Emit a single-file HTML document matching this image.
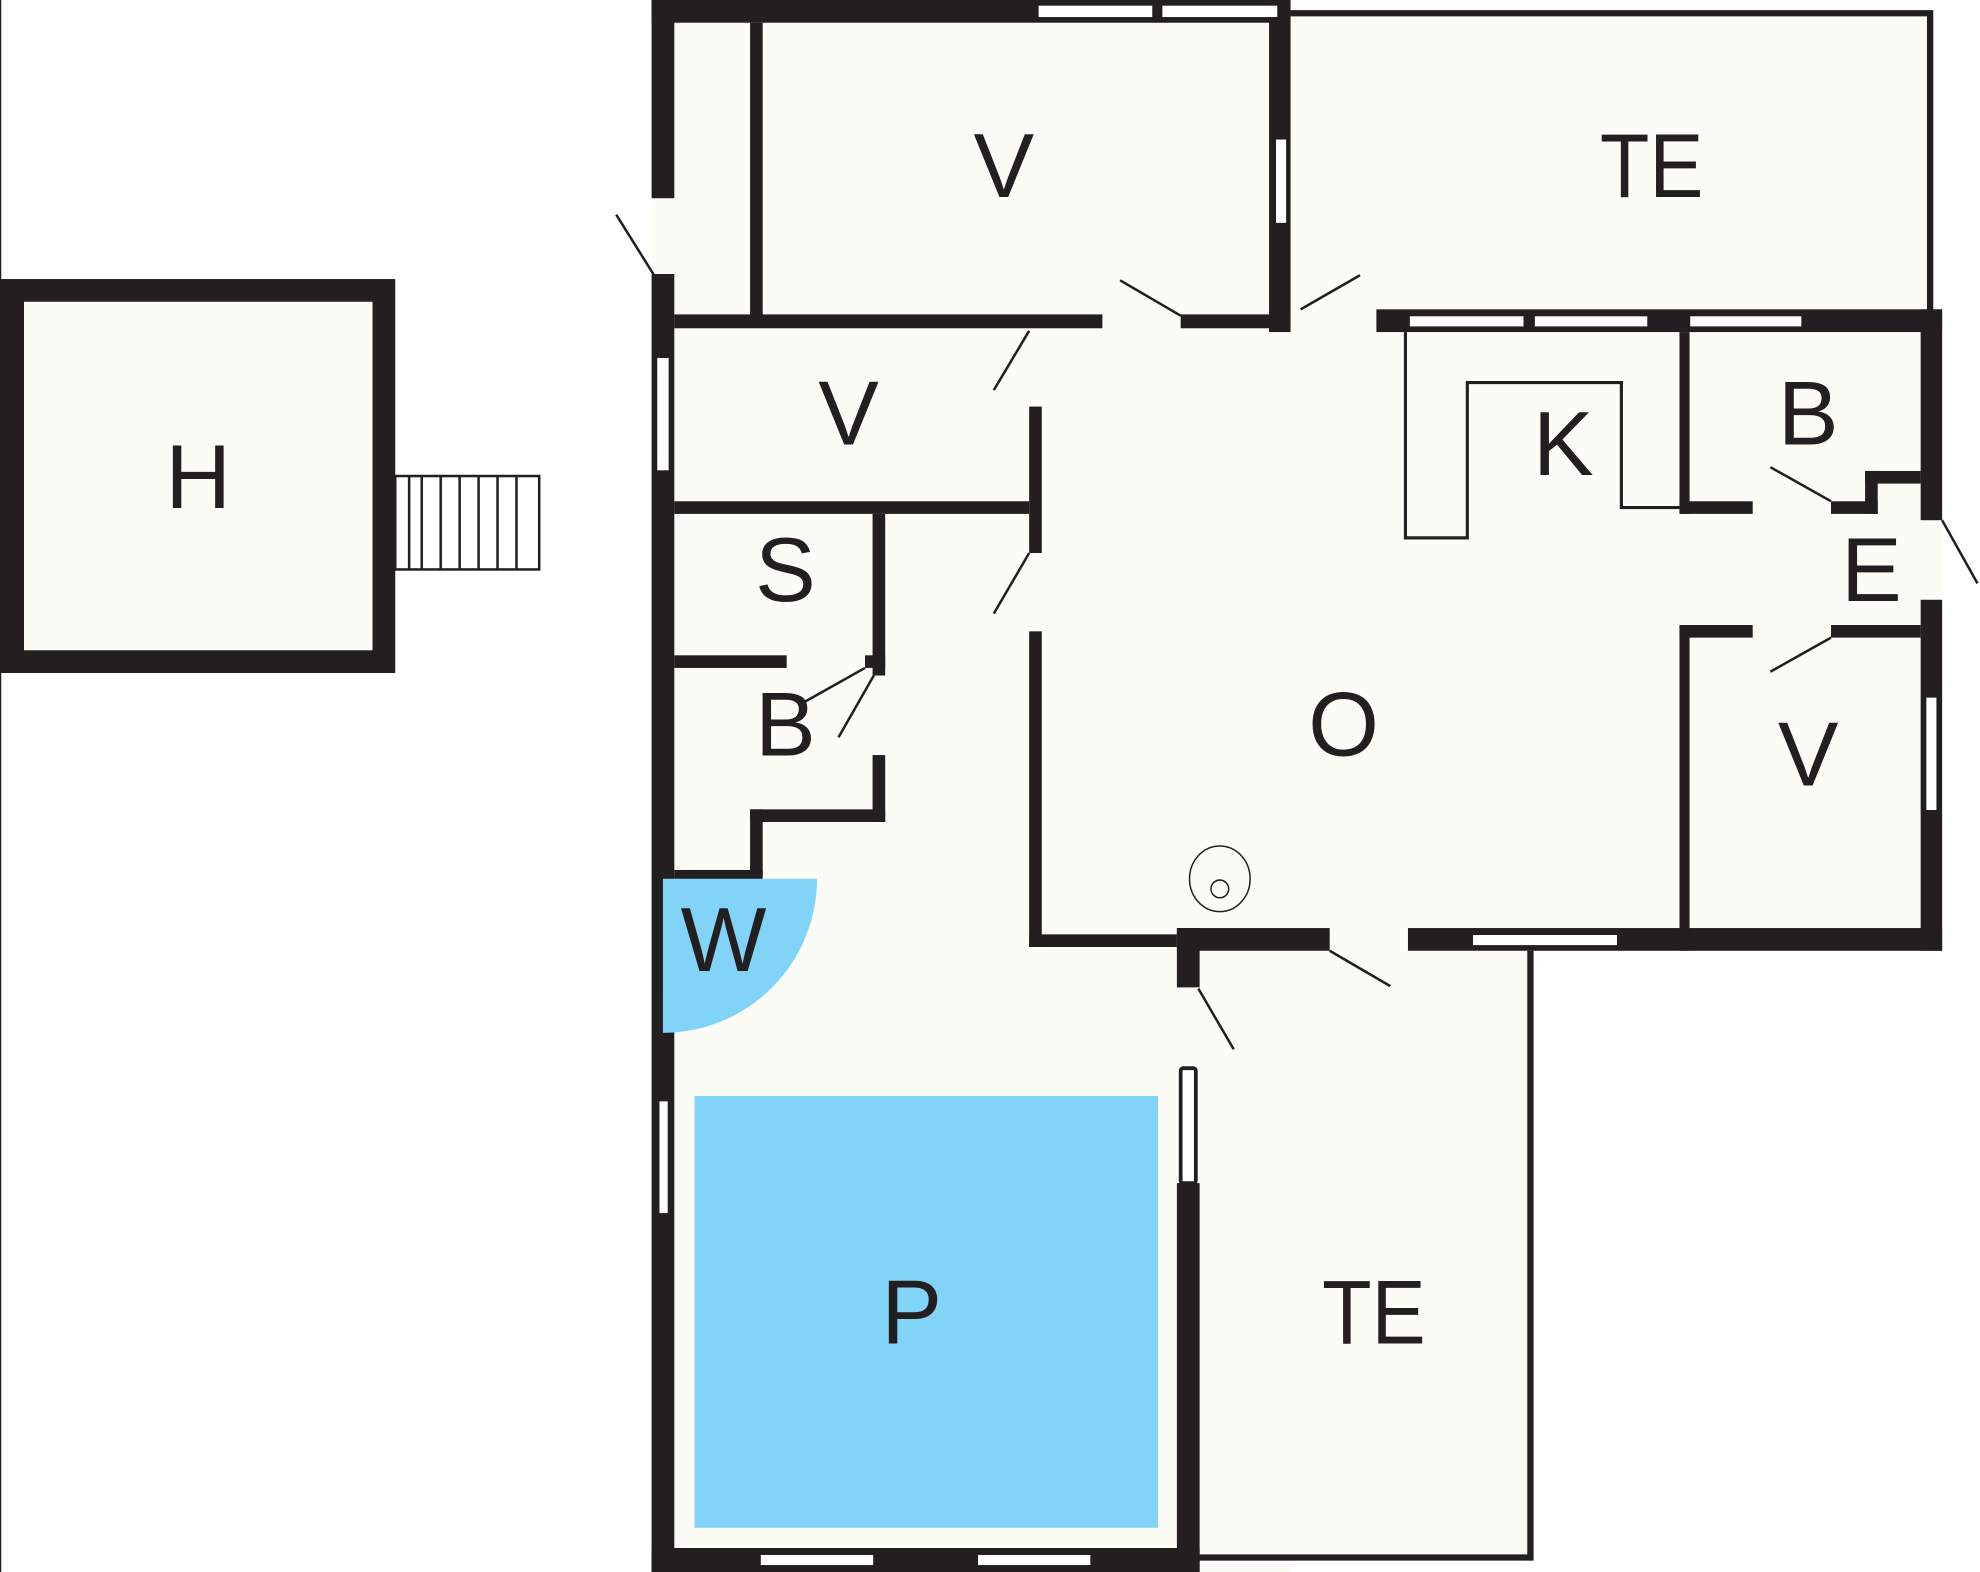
<!DOCTYPE html>
<html><head><meta charset="utf-8"><style>
html,body{margin:0;padding:0;background:#fff;width:1980px;height:1572px;overflow:hidden}
svg{display:block}
text{font-family:"Liberation Sans",sans-serif;fill:#231f20;text-anchor:middle;dominant-baseline:central}
</style></head><body>
<svg width="1980" height="1572" viewBox="0 0 1568 1245" preserveAspectRatio="none" xmlns="http://www.w3.org/2000/svg">
<rect width="1568" height="1245" fill="#fff"/>
<line x1="0.5" y1="0" x2="0.5" y2="1245" stroke="#231f20" stroke-width="1"/>
<g fill="#fcfcf7">
<rect x="516" y="0" width="506" height="1245"/>
<rect x="1022" y="8" width="509" height="255"/>
<rect x="815" y="245" width="723" height="508"/>
<rect x="932" y="735" width="280" height="500"/>
<rect x="1521" y="412" width="17" height="63"/>
</g>
<!-- H building -->
<rect x="0" y="221" width="313" height="312" fill="#231f20"/>
<rect x="19" y="239" width="276" height="276" fill="#fcfcf7"/>
<rect x="313" y="377" width="114" height="74" fill="#fff" stroke="#231f20" stroke-width="2"/>
<g stroke="#231f20" stroke-width="2">
<line x1="324" y1="377" x2="324" y2="451"/><line x1="334" y1="377" x2="334" y2="451"/><line x1="349" y1="377" x2="349" y2="451"/><line x1="364" y1="377" x2="364" y2="451"/><line x1="379" y1="377" x2="379" y2="451"/><line x1="394" y1="377" x2="394" y2="451"/><line x1="409" y1="377" x2="409" y2="451"/>
</g>
<rect x="550" y="868" width="367" height="342" fill="#81d4f7"/>
<!-- top-right TE outline -->
<path d="M1022 10.5 H1528.5 V247" fill="none" stroke="#231f20" stroke-width="5"/>
<!-- lower TE outline -->
<path d="M1212 753 V1233.5 H949" fill="none" stroke="#231f20" stroke-width="5"/>
<g fill="#231f20">
<rect x="516" y="0" width="18" height="157"/>
<rect x="516" y="217" width="18" height="1028"/>
<rect x="516" y="0" width="506" height="18"/>
<rect x="594" y="18" width="10" height="232"/>
<rect x="534" y="249" width="339" height="11"/>
<rect x="935" y="249" width="87" height="11"/>
<rect x="1005" y="0" width="17" height="263"/>
<rect x="1090" y="245" width="448" height="18"/>
<rect x="1521" y="245" width="17" height="167"/>
<rect x="1521" y="475" width="17" height="278"/>
<rect x="1115" y="735" width="423" height="18"/>
<rect x="932" y="735" width="121" height="18"/>
<rect x="932" y="735" width="18" height="47"/>
<rect x="932" y="937" width="18" height="308"/>
<rect x="516" y="1226" width="434" height="19"/>
<rect x="815" y="322" width="10" height="116"/>
<rect x="815" y="500" width="10" height="250"/>
<rect x="815" y="740" width="117" height="10"/>
<rect x="534" y="397" width="281" height="10"/>
<rect x="691" y="407" width="10" height="128"/>
<rect x="691" y="598" width="10" height="53"/>
<rect x="534" y="519" width="89" height="10"/>
<rect x="685" y="519" width="16" height="10"/>
<rect x="594" y="641" width="107" height="10"/>
<rect x="594" y="641" width="10" height="53"/>
<rect x="534" y="689" width="70" height="8"/>
<rect x="1330" y="263" width="8" height="144"/>
<rect x="1330" y="397" width="58" height="10"/>
<rect x="1450" y="397" width="37" height="10"/>
<rect x="1477" y="373" width="10" height="34"/>
<rect x="1477" y="373" width="44" height="10"/>
<rect x="1330" y="495" width="58" height="10"/>
<rect x="1450" y="495" width="71" height="10"/>
<rect x="1330" y="495" width="8" height="258"/>
</g>
<path d="M525 696 H647 A122 122 0 0 1 525 818 Z" fill="#81d4f7"/>
<g fill="#fff" stroke="#231f20" stroke-width="1">
<rect x="822" y="4" width="91" height="10"/>
<rect x="920" y="4" width="92" height="10"/>
<rect x="1010" y="110" width="9" height="67"/>
<rect x="520" y="283" width="10" height="90"/>
<rect x="1116" y="250" width="91" height="9"/>
<rect x="1215" y="250" width="90" height="9"/>
<rect x="1338" y="250" width="89" height="9"/>
<rect x="1525" y="552" width="9" height="90"/>
<rect x="1166" y="740" width="115" height="9"/>
<rect x="602" y="1231" width="90" height="9"/>
<rect x="774" y="1231" width="90" height="9"/>
</g>
<rect x="521" y="871" width="9" height="91" fill="#fff" stroke="#231f20" stroke-width="2.5"/>
<rect x="935" y="846" width="12" height="91" rx="2" fill="#fff" stroke="#231f20" stroke-width="3"/>
<path d="M1113 263 V426 H1162 V303 H1284 V402 H1330" fill="none" stroke="#231f20" stroke-width="2.5"/>
<g stroke="#231f20" stroke-width="2" fill="none">
<line x1="488" y1="170" x2="518" y2="218"/>
<line x1="887" y1="222" x2="935" y2="250"/>
<line x1="1030" y1="245" x2="1077" y2="218"/>
<line x1="787" y1="309" x2="815" y2="262"/>
<line x1="787" y1="486" x2="815" y2="438"/>
<line x1="637" y1="556" x2="685" y2="529"/>
<line x1="664" y1="584" x2="692" y2="535"/>
<line x1="1402" y1="370" x2="1450" y2="397"/>
<line x1="1402" y1="532" x2="1450" y2="505"/>
<line x1="1538" y1="412" x2="1566" y2="462"/>
<line x1="1053" y1="753" x2="1101" y2="781"/>
<line x1="949" y1="783" x2="977" y2="831"/>
</g>
<g fill="none" stroke="#231f20" stroke-width="1.2">
<ellipse cx="966" cy="696" rx="24" ry="26"/>
<circle cx="966" cy="704" r="7"/>
</g>
<g font-size="72">
<text x="157" y="378">H</text>
<text x="795" y="132">V</text>
<text x="1308" y="132" textLength="82" lengthAdjust="spacingAndGlyphs">TE</text>
<text x="672" y="328">V</text>
<text x="1238" y="352">K</text>
<text x="1432" y="328">B</text>
<text x="1482" y="452">E</text>
<text x="622" y="452">S</text>
<text x="622" y="574">B</text>
<text x="1064" y="574">O</text>
<text x="1432" y="598">V</text>
<text x="573" y="745">W</text>
<text x="722" y="1040">P</text>
<text x="1088" y="1040" textLength="82" lengthAdjust="spacingAndGlyphs">TE</text>
</g>
</svg>
</body></html>
